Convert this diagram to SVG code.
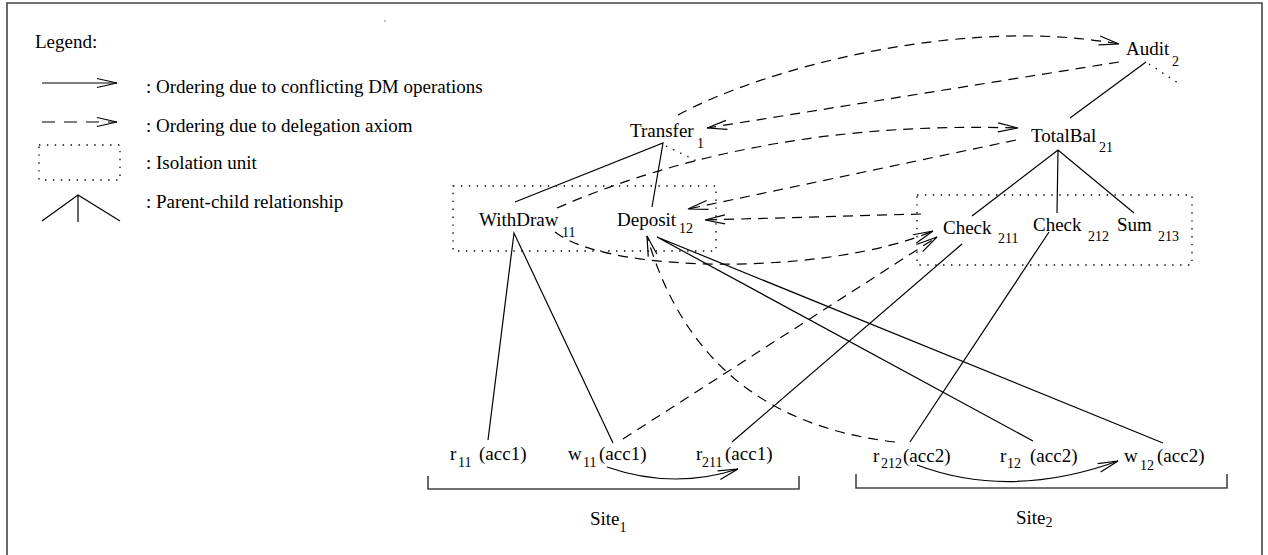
<svg xmlns="http://www.w3.org/2000/svg" width="1268" height="555" viewBox="0 0 1268 555">
  <style>
    text { font-family: "Liberation Serif", "Times New Roman", serif; font-size: 19px; fill: #000; }
    .sub { font-size: 14px; }
    .ln { fill: none; stroke: #000; stroke-width: 1.2; }
    .dash { fill: none; stroke: #000; stroke-width: 1.2; stroke-dasharray: 10 7; }
    .dot { fill: none; stroke: #000; stroke-width: 1.3; stroke-dasharray: 1.4 6.5; }
    .frame { fill: none; stroke: #444; stroke-width: 1.6; }
  </style>
  <defs>
    <marker id="arrow" markerUnits="userSpaceOnUse" markerWidth="24" markerHeight="14" refX="21" refY="6" orient="auto" overflow="visible">
      <path d="M1,1.5 L21,6 L1,10.5" fill="none" stroke="#000" stroke-width="1.2"/>
    </marker>
  </defs>

  <!-- outer frame (bottom edge lies below the canvas) -->
  <path class="frame" d="M7,560 L7,3 L1262,3 L1262,560"/>
  <circle cx="385" cy="21" r="0.7" fill="#555"/>

  <!-- legend -->
  <g id="legend">
    <text x="35" y="48">Legend:</text>
    <line class="ln" x1="42" y1="83" x2="117" y2="83" marker-end="url(#arrow)"/>
    <text x="146" y="93">: Ordering due to conflicting DM operations</text>
    <line class="ln" x1="42" y1="122" x2="117" y2="122" stroke-dasharray="13 9" marker-end="url(#arrow)"/>
    <text x="146" y="132">: Ordering due to delegation axiom</text>
    <rect class="dot" x="39" y="145" width="81" height="35"/>
    <text x="146" y="169">: Isolation unit</text>
    <path class="ln" d="M42,221 L78,195 L120,221 M78,195 L78,222"/>
    <text x="146" y="208">: Parent-child relationship</text>
  </g>

  <!-- isolation units -->
  <g id="unit-1"><rect class="dot" x="453" y="186" width="263" height="65"/></g>
  <g id="unit-2"><rect class="dot" x="917" y="195" width="275" height="70"/></g>

  <!-- site brackets -->
  <g id="site-1">
    <path class="frame" stroke-width="1.4" d="M428,476 L428,489 L799,489 L799,476"/>
    <text x="590" y="525">Site<tspan class="sub" dy="7">1</tspan></text>
  </g>
  <g id="site-2">
    <path class="frame" stroke-width="1.4" d="M856,474 L856,488 L1227,488 L1227,474"/>
    <text x="1016" y="524">Site<tspan class="sub" dy="3">2</tspan></text>
  </g>

  <!-- transaction nodes -->
  <g id="audit-2"><text x="1126" y="55">Audit</text><text class="sub" x="1172" y="66">2</text></g>
  <g id="transfer-1"><text x="630" y="137">Transfer</text><text class="sub" x="697" y="148">1</text></g>
  <g id="totalbal-21"><text x="1031" y="142">TotalBal</text><text class="sub" x="1099" y="152">21</text></g>
  <g id="withdraw-11"><text x="479" y="226">WithDraw</text><text class="sub" x="562" y="237">11</text></g>
  <g id="deposit-12"><text x="617" y="226">Deposit</text><text class="sub" x="679" y="233">12</text></g>
  <g id="check-211"><text x="943" y="234">Check</text><text class="sub" x="998" y="243">211</text></g>
  <g id="check-212"><text x="1033" y="231">Check</text><text class="sub" x="1088" y="241">212</text></g>
  <g id="sum-213"><text x="1117" y="231">Sum</text><text class="sub" x="1158" y="241">213</text></g>

  <!-- data-manager operations -->
  <g id="r-11"><text x="450" y="460">r</text><text class="sub" x="458" y="467">11</text><text x="479" y="460">(acc1)</text></g>
  <g id="w-11"><text x="568" y="460">w</text><text class="sub" x="583" y="467">11</text><text x="599" y="460">(acc1)</text></g>
  <g id="r-211"><text x="696" y="460">r</text><text class="sub" x="702" y="467">211</text><text x="725" y="460">(acc1)</text></g>
  <g id="r-212"><text x="873" y="462">r</text><text class="sub" x="881" y="468">212</text><text x="903" y="462">(acc2)</text></g>
  <g id="r-12"><text x="1000" y="462">r</text><text class="sub" x="1007" y="468">12</text><text x="1030" y="462">(acc2)</text></g>
  <g id="w-12"><text x="1124" y="462">w</text><text class="sub" x="1140" y="470">12</text><text x="1157" y="462">(acc2)</text></g>

  <g id="connectors">
    <!-- parent-child edges -->
    <path class="ln" d="M515,202 L663,143 L652,207"/>
    <path class="dot" d="M666,146 L701,163"/>
    <path class="ln" d="M1070,118 L1146,62"/>
    <path class="dot" d="M1149,64 L1178,83"/>
    <path class="ln" d="M972,216 L1058,150 L1134,213 M1058,150 L1057,213"/>
    <path class="ln" d="M488,440 L514,233 L613,443"/>
    <path class="ln" d="M1033,441 L657,237 L1163,443"/>
    <path class="ln" d="M962,244 L732,442"/>
    <path class="ln" d="M1049,232 L910,442"/>

    <!-- delegation ordering -->
    <path class="dash" d="M678,115 C760,70 960,15 1119,44" marker-end="url(#arrow)"/>
    <path class="dash" d="M1119,62 L707,128" marker-end="url(#arrow)"/>
    <path class="dash" d="M557,208 Q760,120 1018,128" marker-end="url(#arrow)"/>
    <path class="dash" d="M1016,140 L688,209" marker-end="url(#arrow)"/>
    <path class="dash" d="M921,214 L705,220" marker-end="url(#arrow)"/>
    <path class="dash" d="M555,232 C610,275 830,275 933,231" marker-end="url(#arrow)"/>
    <path class="dash" d="M623,439 L937,237" marker-end="url(#arrow)"/>
    <path class="dash" d="M895,442 Q700,420 647,236" marker-end="url(#arrow)"/>

    <!-- conflicting DM operation ordering -->
    <path class="ln" d="M607,467 Q673,490 738,469" marker-end="url(#arrow)"/>
    <path class="ln" d="M917,465 Q1010,500 1118,461" marker-end="url(#arrow)"/>
  </g>
</svg>
